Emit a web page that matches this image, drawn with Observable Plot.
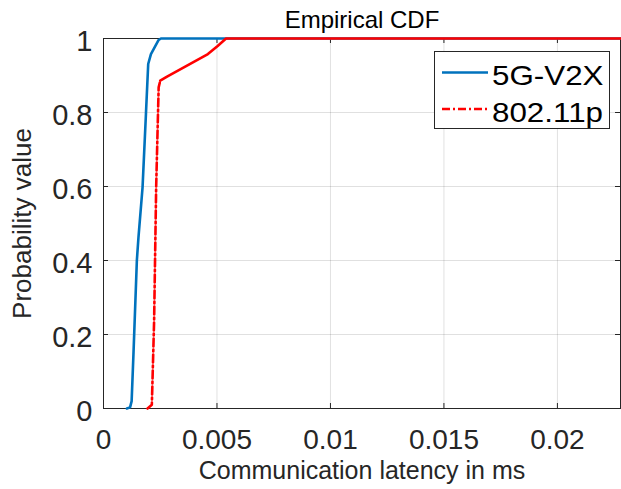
<!DOCTYPE html>
<html><head><meta charset="utf-8">
<script src="https://cdn.jsdelivr.net/npm/d3@7"></script>
<script src="https://cdn.jsdelivr.net/npm/@observablehq/plot@0.6"></script>
<style>
body{margin:0;background:#fff;}
#chart{position:relative;width:621px;height:489px;overflow:hidden;}
#legend{position:absolute;left:434px;top:51px;}
</style></head><body><div id="chart"></div>
<script>
// ---- data ----
const seriesNames = ["5G-V2X", "802.11p"];
const seriesColors = ["#0072BD", "#FF0000"];
const v2xLatency = [0.00103, 0.00117, 0.00124, 0.00132, 0.00147, 0.00154, 0.00172, 0.00187, 0.00197, 0.00209, 0.00243, 0.00253, 0.0228];
const v2xProb    = [0, 0.003, 0.02, 0.147, 0.40, 0.462, 0.597, 0.796, 0.931, 0.958, 0.996, 1, 1];
const p11Latency = [0.00194, 0.00213, 0.00223, 0.00232, 0.00243, 0.0025, 0.0028, 0.0046, 0.00503, 0.0054, 0.0228];
const p11Prob    = [0, 0.01, 0.237, 0.597, 0.868, 0.886, 0.897, 0.958, 0.98, 1, 1];
const p11DashEnd = 5; // index where the dash-dot rendering turns solid
const xTicks = [0, 0.005, 0.01, 0.015, 0.02];
const xTickLabels = ["0", "0.005", "0.01", "0.015", "0.02"];
const yTicks = [0, 0.2, 0.4, 0.6, 0.8, 1];
const yTickLabels = ["0", "0.2", "0.4", "0.6", "0.8", "1"];
const xDomain = [0, 0.02278];
const yDomain = [0, 1];
const titleText = "Empirical CDF";
const xLabelText = "Communication latency in ms";
const yLabelText = "Probability value";

// ---- build ----
const ink = "#262626";
const font = "'Liberation Sans', Arial, Helvetica, sans-serif";
const dashDot = "8,3,2,3";
const v2x = v2xLatency.map((x, i) => ({x, y: v2xProb[i]}));
const p11 = p11Latency.map((x, i) => ({x, y: p11Prob[i]}));
const p11Dashed = p11.slice(0, p11DashEnd + 1);
const p11Solid = p11.slice(p11DashEnd);

const chart = Plot.plot({
  width: 621, height: 489,
  marginLeft: 103, marginRight: 1, marginTop: 38, marginBottom: 81,
  style: {fontFamily: font, background: "#fff", overflow: "visible"},
  x: {domain: xDomain, axis: null},
  y: {domain: yDomain, axis: null},
  marks: [
    Plot.ruleX(xTicks, {stroke: "#000", strokeOpacity: 0.12}),
    Plot.ruleY(yTicks, {stroke: "#000", strokeOpacity: 0.12}),
    Plot.frame({stroke: ink, strokeWidth: 1}),
    Plot.tickX(xTicks, {x: d => d, insetTop: 365, stroke: ink}),
    Plot.tickX(xTicks, {x: d => d, insetBottom: 365, stroke: ink}),
    Plot.tickY(yTicks, {y: d => d, insetRight: 512, stroke: ink}),
    Plot.tickY(yTicks, {y: d => d, insetLeft: 512, stroke: ink}),
    Plot.text(xTicks, {x: d => d, text: d => xTickLabels[xTicks.indexOf(d)], frameAnchor: "bottom", lineAnchor: "top", dy: 21, fontSize: 28, fill: ink, ariaLabel: "x tick labels"}),
    Plot.text(yTicks, {y: d => d, text: d => yTickLabels[yTicks.indexOf(d)], frameAnchor: "left", textAnchor: "end", lineAnchor: "middle", dx: -11, dy: 3, fontSize: 29, fill: ink, ariaLabel: "y tick labels"}),
    Plot.text([titleText], {frameAnchor: "top", lineAnchor: "bottom", dy: -11, fontSize: 24, fill: "#000", ariaLabel: "title"}),
    Plot.text([xLabelText], {frameAnchor: "bottom", lineAnchor: "bottom", dy: 70, fontSize: 25, fill: ink, ariaLabel: "x label"}),
    Plot.text([yLabelText], {frameAnchor: "left", rotate: -90, textAnchor: "middle", lineAnchor: "middle", dx: -81, fontSize: 26, fill: ink, ariaLabel: "y label"}),
    Plot.line(v2x, {x: "x", y: "y", stroke: seriesColors[0], strokeWidth: 2.6}),
    Plot.line(p11Dashed, {x: "x", y: "y", stroke: seriesColors[1], strokeWidth: 2.6, strokeDasharray: dashDot}),
    Plot.line(p11Solid, {x: "x", y: "y", stroke: seriesColors[1], strokeWidth: 2.6})
  ]
});
document.getElementById("chart").appendChild(chart);

// MATLAB export is slightly wider than tall: stretch horizontal text a little
chart.querySelectorAll('[aria-label="x tick labels"] text, [aria-label="y tick labels"] text, [aria-label="title"] text, [aria-label="x label"] text')
  .forEach(t => t.setAttribute("transform", (t.getAttribute("transform") || "") + " scale(1.15,1)"));

// ---- legend ----
const leg = d3.select("#chart").append("svg").attr("id", "legend").attr("width", 176).attr("height", 79);
leg.append("rect").attr("x", 0.5).attr("y", 0.5).attr("width", 175).attr("height", 77)
  .attr("fill", "#fff").attr("stroke", ink).attr("stroke-width", 1);
const rowLine = [21.5, 58];
const rowBase = [34, 70.7];
seriesNames.forEach((name, i) => {
  leg.append("line").attr("x1", 8).attr("x2", 54).attr("y1", rowLine[i]).attr("y2", rowLine[i])
    .attr("stroke", seriesColors[i]).attr("stroke-width", 2.6)
    .attr("stroke-dasharray", i === 1 ? dashDot : null);
  leg.append("text").attr("transform", `translate(58,${rowBase[i]}) scale(1.12,1)`)
    .attr("font-family", font).attr("font-size", 28).attr("fill", "#000").text(name);
});
</script>
</body></html>
